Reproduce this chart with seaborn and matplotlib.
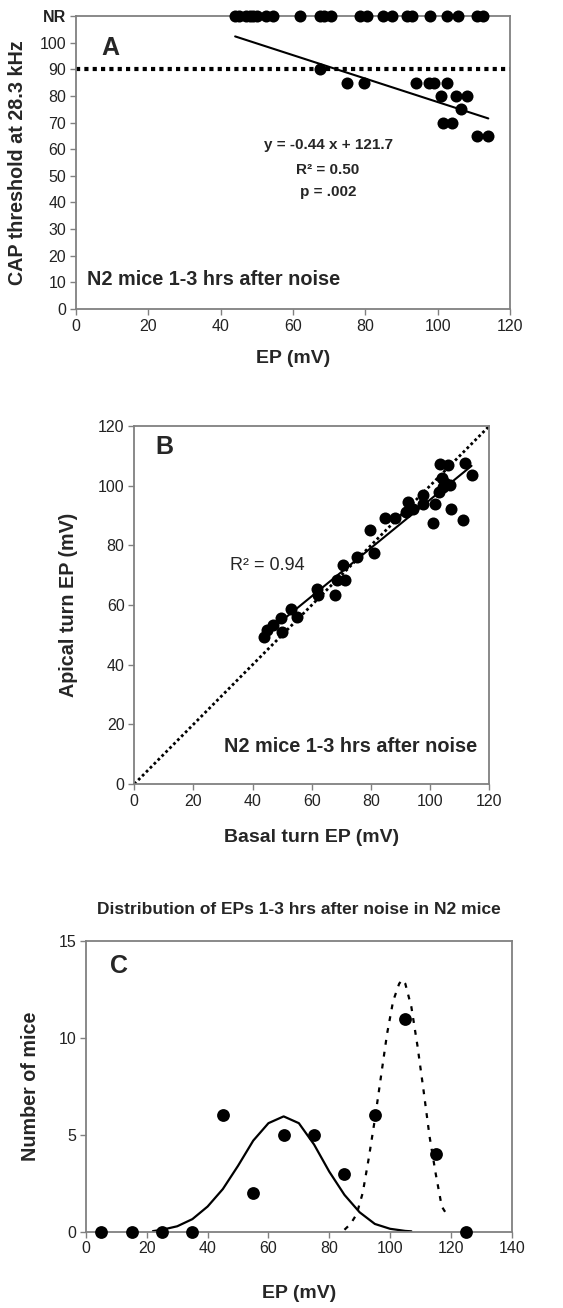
import matplotlib
matplotlib.use("Agg")
import matplotlib.pyplot as plt
import numpy as np
import pandas as pd
import seaborn as sns

# Panel A: CAP threshold vs EP
a_nr_ep = [44, 45, 47, 48, 49, 50, 52.5, 54.5, 62, 67.5, 68.5, 70.5, 78.5, 80.5,
           85, 87.5, 91.5, 93, 98, 102.5, 105.5, 111, 112.5]
a_ep = [67.5, 75, 79.5, 94, 97.5, 99, 102.5, 101, 105, 108, 106.5, 101.5, 104, 111, 114]
a_thr = [90, 85, 85, 85, 85, 85, 85, 80, 80, 80, 75, 70, 70, 65, 65]
a_slope, a_icept = -0.44, 121.7
NR_LEVEL = 110

# Panel B: basal vs apical turn EP
b_basal = [44, 45, 47, 49.5, 50, 53, 55, 61.7, 62.2, 68, 68.5, 71.2, 70.7, 75.2, 79.7,
           81, 84.8, 88, 92, 92.6, 94.3, 97.7, 97.7, 101.7, 101, 103.3, 106, 104,
           104.5, 103, 106.7, 107, 111.8, 114, 111, 105]
b_apical = [49.3, 51.5, 53.3, 55.5, 51, 58.5, 56, 65.5, 63.3, 63.3, 68.3, 68.3, 73.4, 76,
            85.3, 77.3, 89.3, 89.3, 91.2, 94.5, 92.3, 96.8, 94, 93.8, 87.5, 107.4, 106.9,
            102.5, 99.7, 98, 100.3, 92.3, 107.5, 103.6, 88.4, 101]

# Panel C: distribution of EPs
c_bins = [5, 15, 25, 35, 45, 55, 65, 75, 85, 95, 105, 115, 125]
c_count = [0, 0, 0, 0, 6, 2, 5, 5, 3, 6, 11, 4, 0]
c_low_x = [22, 25, 30, 35, 40, 45, 50, 55, 60, 65, 70, 75, 80, 85, 90, 95, 100, 105, 107]
c_low_y = [0.03, 0.1, 0.28, 0.65, 1.3, 2.2, 3.4, 4.7, 5.6, 5.95, 5.6, 4.5, 3.1, 1.9,
           1.0, 0.4, 0.15, 0.04, 0.02]
c_high_x = [85, 87, 89, 91, 93, 95, 97, 99, 101, 103, 104, 105, 107, 109, 111, 113, 115, 117, 119]
c_high_y = [0.1, 0.4, 0.9, 2.0, 3.8, 5.8, 8.0, 10.2, 11.9, 12.8, 13.0, 12.8, 11.6, 9.6,
            7.3, 4.9, 3.0, 1.3, 0.8]

sns.set_style("white")
plt.rcParams['font.family'] = ['Liberation Sans', 'DejaVu Sans']

W, H = 563, 1308
SPINE = '#808080'
TICK = 11.5
XLAB = 14
YLAB = 14.2
NOTE = 14.3


def box(ax):
    for s in ax.spines.values():
        s.set_visible(True)
        s.set_color(SPINE)
        s.set_linewidth(1.3)
    ax.tick_params(direction='out', length=4, width=1, color=SPINE,
                   labelsize=TICK, labelcolor='#222222', pad=3,
                   left=True, bottom=True)


def rect(l, r, t, b):
    return [l / W, 1 - b / H, (r - l) / W, (b - t) / H]


fig = plt.figure(figsize=(W / 100, H / 100), dpi=100)

# ---- A ----
axA = fig.add_axes(rect(76, 510, 16, 309))
axA.axhline(90, color='black', lw=3, ls=(0, (1, 1)), zorder=1)
line_x = np.array([min(a_nr_ep), max(a_ep)])
sns.lineplot(x=line_x, y=a_slope * line_x + a_icept, color='black', lw=1.5, ax=axA)
sns.scatterplot(x=a_nr_ep, y=[NR_LEVEL] * len(a_nr_ep), color='black', s=75,
                edgecolor='black', linewidth=0, ax=axA, clip_on=False, zorder=5)
sns.scatterplot(x=a_ep, y=a_thr, color='black', s=75, edgecolor='black',
                linewidth=0, ax=axA, zorder=5)
axA.set_xlim(0, 120)
axA.set_ylim(0, NR_LEVEL)
axA.set_xticks(range(0, 121, 20))
axA.set_yticks(list(range(0, 101, 10)) + [NR_LEVEL])
axA.set_yticklabels([str(v) for v in range(0, 101, 10)] + ['NR'])
box(axA)
axA.get_yticklabels()[-1].set_fontweight('bold')
axA.set_ylabel('CAP threshold at 28.3 kHz', fontsize=YLAB, fontweight='bold')
axA.yaxis.set_label_coords(-0.113, 0.5)
axA.set_xlabel('EP (mV)', fontsize=XLAB, fontweight='bold')
axA.xaxis.set_label_coords(0.5, -0.14)
axA.text(7, 98, 'A', fontsize=18, fontweight='bold', va='center')
axA.text(69.7, 61.4, 'y = -0.44 x + 121.7', fontsize=11, fontweight='bold',
         ha='center', va='center')
axA.text(69.7, 52, 'R² = 0.50', fontsize=11, fontweight='bold', ha='center', va='center')
axA.text(69.7, 44, 'p = .002', fontsize=11, fontweight='bold', ha='center', va='center')
axA.text(3, 11, 'N2 mice 1-3 hrs after noise', fontsize=NOTE, fontweight='bold', va='center')

# ---- B ----
axB = fig.add_axes(rect(134.3, 489.3, 426, 784))
sns.lineplot(x=[0, 120], y=[0, 120], color='black', lw=2, ls=(0, (1, 1)), ax=axB)
sns.regplot(x=b_basal, y=b_apical, ci=None, ax=axB, color='black',
            scatter_kws=dict(s=75, linewidths=0, alpha=1, zorder=5),
            line_kws=dict(lw=1.5, zorder=4))
axB.set_xlim(0, 120)
axB.set_ylim(0, 120)
axB.set_xticks(range(0, 121, 20))
axB.set_yticks(range(0, 121, 20))
box(axB)
axB.set_ylabel('Apical turn EP (mV)', fontsize=YLAB, fontweight='bold')
axB.yaxis.set_label_coords(-0.159, 0.5)
axB.set_xlabel('Basal turn EP (mV)', fontsize=XLAB, fontweight='bold')
axB.xaxis.set_label_coords(0.5, -0.126)
axB.text(7, 113, 'B', fontsize=18, fontweight='bold', va='center')
axB.text(45, 73.4, 'R² = 0.94', fontsize=13, ha='center', va='center')
axB.text(116, 12.5, 'N2 mice 1-3 hrs after noise', fontsize=NOTE, fontweight='bold',
         ha='right', va='center')

# ---- C ----
axC = fig.add_axes(rect(86, 511.7, 941, 1231.7))
sns.lineplot(x=c_low_x, y=c_low_y, color='black', lw=1.6, ax=axC)
sns.lineplot(x=c_high_x, y=c_high_y, color='black', lw=1.6, ls=(0, (2.2, 3.2)), ax=axC)
sns.scatterplot(x=c_bins, y=c_count, color='black', s=85, linewidth=0, ax=axC,
                clip_on=False, zorder=5)
axC.set_xlim(0, 140)
axC.set_ylim(0, 15)
axC.set_xticks(range(0, 141, 20))
axC.set_yticks([0, 5, 10, 15])
box(axC)
axC.set_ylabel('Number of mice', fontsize=YLAB, fontweight='bold')
axC.yaxis.set_label_coords(-0.108, 0.5)
axC.set_xlabel('EP (mV)', fontsize=XLAB, fontweight='bold')
axC.xaxis.set_label_coords(0.5, -0.183)
axC.set_title('Distribution of EPs 1-3 hrs after noise in N2 mice', fontsize=12.5,
              fontweight='bold', y=1.065)
axC.text(8, 13.7, 'C', fontsize=18, fontweight='bold', va='center')

fig.savefig('out.png', dpi=100)
